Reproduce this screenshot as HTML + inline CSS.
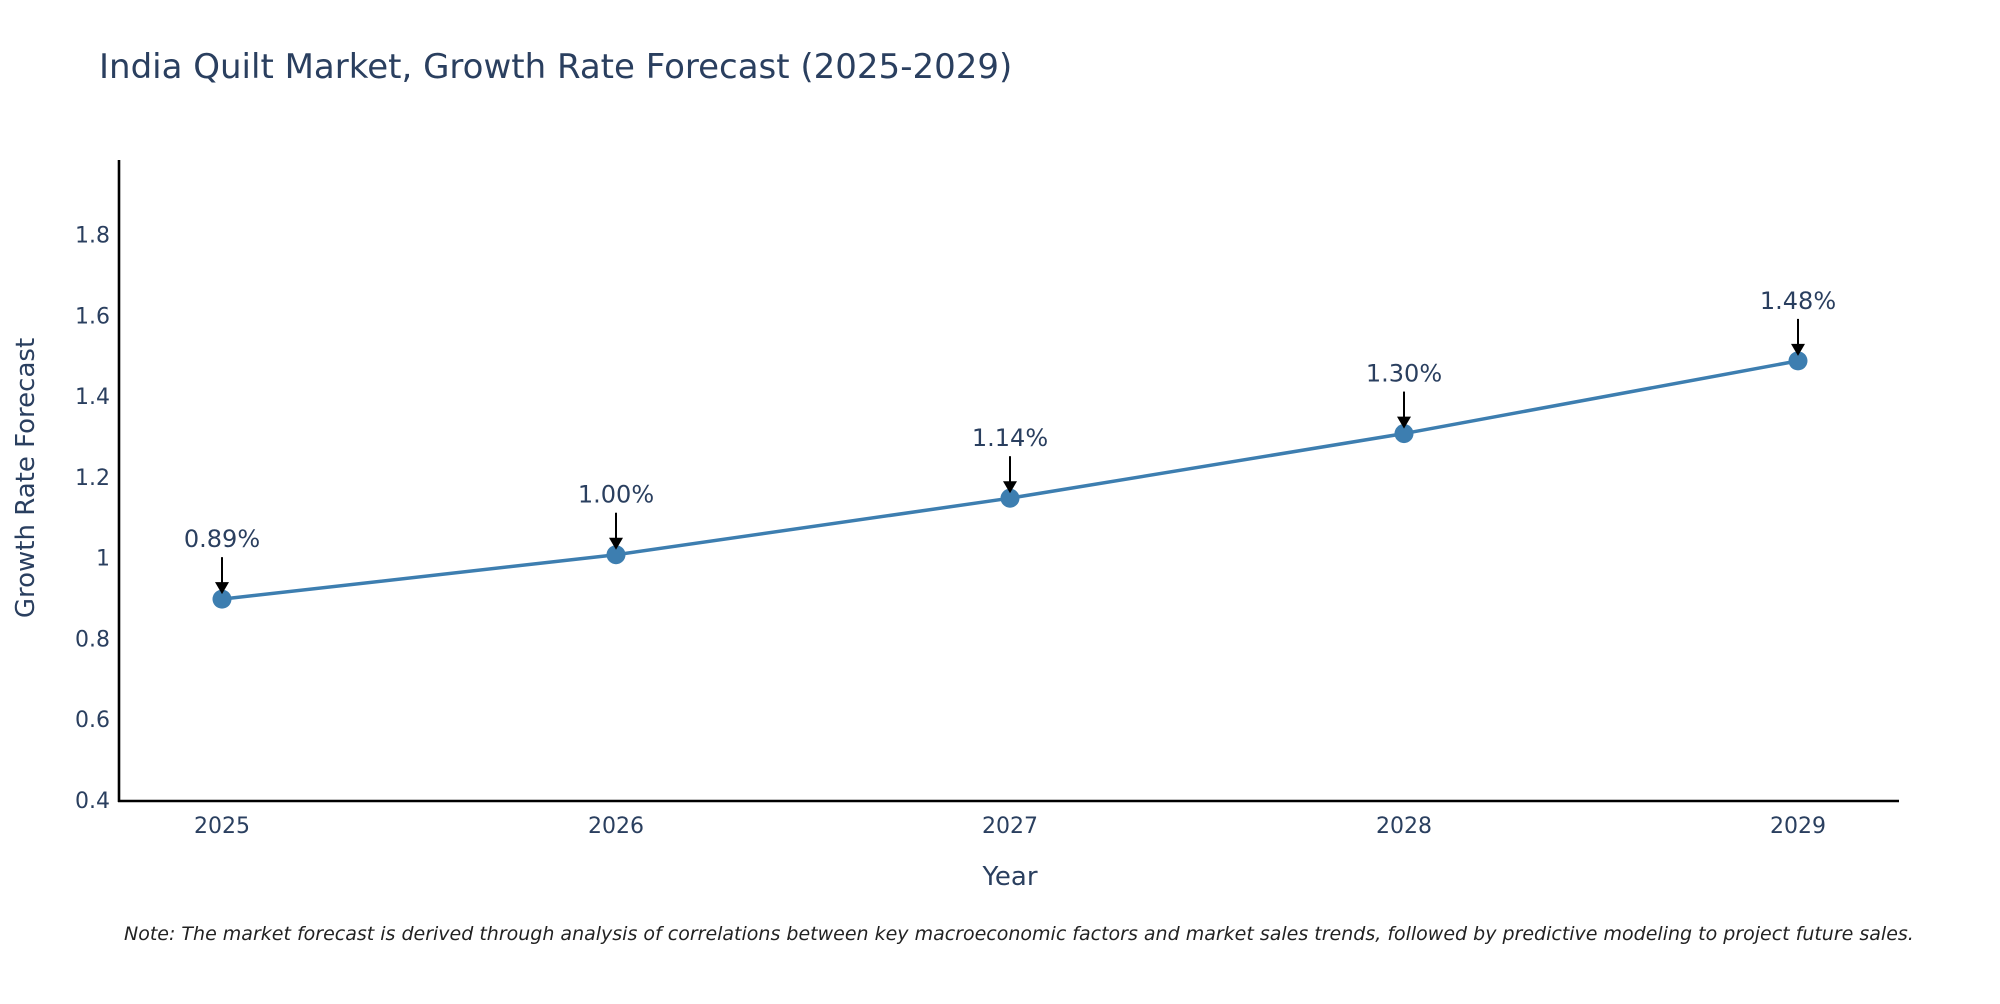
<!DOCTYPE html>
<html><head><meta charset="utf-8"><style>
body{margin:0;background:#fff;width:2000px;height:1000px;overflow:hidden;font-family:"DejaVu Sans",sans-serif}
</style></head><body>
<svg id="chart" width="2000" height="1000" xmlns="http://www.w3.org/2000/svg" font-family="DejaVu Sans, sans-serif">
<text x="99" y="78" font-size="34" fill="#2a3f5f">India Quilt Market, Growth Rate Forecast (2025-2029)</text>
<g id="yticks"></g><g id="xticks"></g>
<line x1="119" y1="160" x2="119" y2="802" stroke="#000" stroke-width="2.6"/>
<line x1="118" y1="801" x2="1899" y2="801" stroke="#000" stroke-width="2.6"/>
<g id="series"></g><g id="annots"></g>
<text transform="translate(34,478) rotate(-90)" text-anchor="middle" font-size="26" fill="#2a3f5f">Growth Rate Forecast</text>
<text x="1010" y="885" text-anchor="middle" font-size="26" fill="#2a3f5f">Year</text>
<text x="124" y="940" font-size="19" font-style="italic" fill="#222">Note: The market forecast is derived through analysis of correlations between key macroeconomic factors and market sales trends, followed by predictive modeling to project future sales.</text>
</svg>
<script>
const years=[2025,2026,2027,2028,2029];
const values=[0.89,1.00,1.14,1.30,1.48];
const labels=["0.89%","1.00%","1.14%","1.30%","1.48%"];
const yTicks=[0.4,0.6,0.8,1,1.2,1.4,1.6,1.8];
const NS="http://www.w3.org/2000/svg";
function xs(v){return 222+(v-2025)*394;}
function ys(v){return 800-(v-0.4)*403.8;}
function mk(t,a,p){const e=document.createElementNS(NS,t);for(const k in a)e.setAttribute(k,a[k]);p.appendChild(e);return e;}
const yt=document.getElementById('yticks');
yTicks.forEach(v=>{const t=mk('text',{x:110,y:ys(v)+8,'text-anchor':'end','font-size':22,fill:'#2a3f5f'},yt);


t.textContent=String(v);});
const xt=document.getElementById('xticks');
years.forEach(v=>{const t=mk('text',{x:xs(v),y:833,'text-anchor':'middle','font-size':22,fill:'#2a3f5f'},xt);


t.textContent=String(v);});
const s=document.getElementById('series');
const pl=mk('polyline',{points:years.map((y,i)=>xs(y)+','+(ys(values[i])-3)).join(' '),fill:'none',stroke:'#3d7eb0','stroke-width':3.5},s);


const an=document.getElementById('annots');
years.forEach((y,i)=>{const cx=xs(y),cy=ys(values[i])-3;
const c=mk('circle',{cx:cx,cy:cy,r:9.5,fill:'#3d7eb0'},s);


const l=mk('line',{x1:cx,y1:cy-42,x2:cx,y2:cy-14,stroke:'#000','stroke-width':2},an);


const h=mk('polygon',{points:`${cx-7},${cy-17} ${cx+7},${cy-17} ${cx},${cy-5}`,fill:'#000'},an);


const t=mk('text',{x:cx,y:cy-52,'text-anchor':'middle','font-size':24,fill:'#2a3f5f'},an);


t.textContent=labels[i];});
</script>
</body></html>
